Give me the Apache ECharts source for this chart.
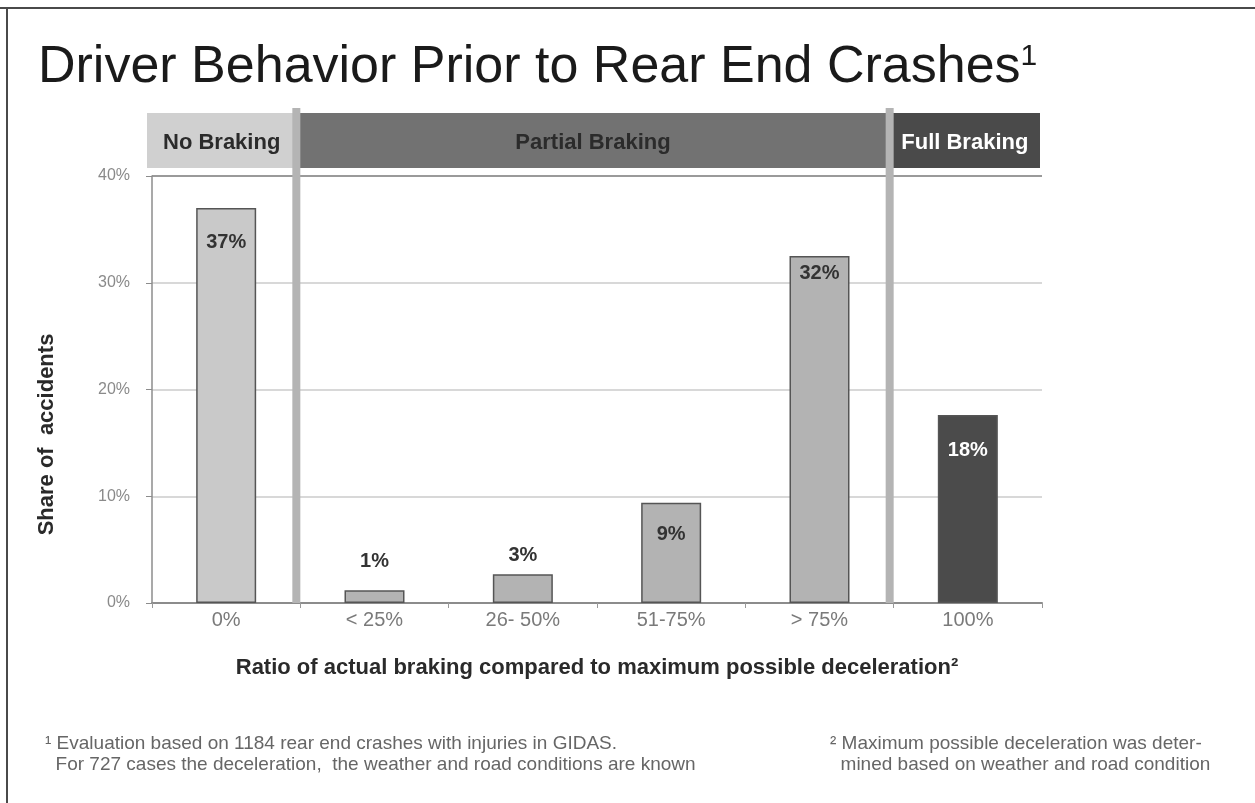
<!DOCTYPE html>
<html lang="en">
<head>
    <meta charset="UTF-8">
    <title>Driver Behavior Prior to Rear End Crashes</title>
    <style>
        html, body { margin: 0; padding: 0; background: #fff; }
        .show { width: 1255px; height: 803px; }
    </style>
</head>
<body>
    <div class="show"></div>
    <script src="https://cdn.jsdelivr.net/npm/echarts@6/dist/echarts.min.js"></script>
    <script>
        // data
        const categories = ['0%', '< 25%', '26- 50%', '51-75%', '> 75%', '100%'];
        const shares = [37, 1.2, 2.7, 9.4, 32.5, 17.6];          // bar heights, % of accidents
        const shareLabels = ['37%', '1%', '3%', '9%', '32%', '18%'];
        const yTicks = [0, 10, 20, 30, 40];
        // header bands: name + first/last category index it covers
        const phases = [
            { name: 'No Braking', from: 0, to: 0 },
            { name: 'Partial Braking', from: 1, to: 4 },
            { name: 'Full Braking', from: 5, to: 5 }
        ];

        const FONT = "'Liberation Sans', Arial, sans-serif";
        const barColors = ['#c9c9c9', '#b3b3b3', '#b3b3b3', '#b3b3b3', '#b3b3b3', '#4b4b4b'];
        const phaseColors = ['#d0d0d0', '#727272', '#4a4a4a'];
        const phaseText = ['#2b2b2b', '#2b2b2b', '#ffffff'];
        // label placement per bar (inside top unless the bar is too short)
        const labelPlace = [
            { position: 'insideTop', distance: 24, color: '#333' },
            { position: 'top', distance: 19, color: '#333' },
            { position: 'top', distance: 9, color: '#333' },
            { position: 'insideTop', distance: 22, color: '#333' },
            { position: 'insideTop', distance: 7, color: '#333' },
            { position: 'insideTop', distance: 25, color: '#fff' }
        ];

        const myChart = echarts.init(document.querySelector('.show'), null, { renderer: 'canvas' });

        const option = {
            backgroundColor: '#fff',
            animation: false,
            title: {
                text: 'Driver Behavior Prior to Rear End Crashes{sup|1}',
                left: 33,
                top: 37,
                textStyle: {
                    fontFamily: FONT,
                    fontSize: 52,
                    fontWeight: 'normal',
                    color: '#1a1a1a',
                    rich: {
                        sup: { fontFamily: FONT, fontSize: 30, color: '#1a1a1a', verticalAlign: 'top', lineHeight: 52 }
                    }
                }
            },
            grid: { left: 152, right: 213, top: 176, bottom: 200, containLabel: false },
            xAxis: {
                type: 'category',
                data: categories,
                name: 'Ratio of actual braking compared to maximum possible deceleration²',
                nameLocation: 'middle',
                nameGap: 54,
                nameTextStyle: { fontFamily: FONT, fontSize: 22, fontWeight: 'bold', color: '#2a2a2a' },
                axisLine: { lineStyle: { color: '#8c8c8c', width: 2 } },
                axisTick: { show: true, length: 5, lineStyle: { color: '#999' } },
                axisLabel: { fontFamily: FONT, fontSize: 20, color: '#7a7a7a', margin: 7 },
                splitLine: { show: false }
            },
            yAxis: {
                type: 'value',
                min: yTicks[0],
                max: yTicks[yTicks.length - 1],
                interval: yTicks[1] - yTicks[0],
                axisLine: { show: true, lineStyle: { color: '#8c8c8c', width: 1.5 } },
                axisTick: { show: true, length: 6, lineStyle: { color: '#8c8c8c' } },
                axisLabel: {
                    fontFamily: FONT, fontSize: 16, color: '#8a8a8a', margin: 22,
                    formatter: '{value}%'
                },
                splitLine: {
                    lineStyle: { color: ['#d8d8d8', '#d8d8d8', '#d8d8d8', '#d8d8d8', '#9a9a9a'], width: 2 }
                }
            },
            series: [{
                type: 'bar',
                barWidth: 60,
                data: shares.map(function (v, i) {
                    return {
                        value: v,
                        itemStyle: { color: barColors[i] },
                        label: {
                            show: true,
                            position: labelPlace[i].position,
                            distance: labelPlace[i].distance,
                            color: labelPlace[i].color,
                            formatter: shareLabels[i]
                        }
                    };
                }),
                itemStyle: { borderColor: '#555', borderWidth: 1.5 },
                label: { fontFamily: FONT, fontSize: 20, fontWeight: 'bold' }
            }]
        };

        myChart.setOption(option);

        // header bands, phase separators, frame and footnotes placed from the axis scale
        const c0 = myChart.convertToPixel({ xAxisIndex: 0 }, 0);
        const c1 = myChart.convertToPixel({ xAxisIndex: 0 }, 1);
        const band = c1 - c0;
        const axisLeft = c0 - band / 2;
        const axisRight = axisLeft + band * categories.length;
        const bandTop = 113, bandH = 55;
        const sepTop = 108;
        const axisBottom = myChart.convertToPixel({ yAxisIndex: 0 }, 0);
        const axisTop = myChart.convertToPixel({ yAxisIndex: 0 }, yTicks[yTicks.length - 1]);

        const graphics = [];
        phases.forEach(function (p, i) {
            let x0 = i === 0 ? axisLeft - 5 : axisLeft + band * p.from - 4;
            let x1 = i === phases.length - 1 ? axisRight - 2 : axisLeft + band * (p.to + 1) - 4;
            graphics.push({
                type: 'rect', z: 1,
                shape: { x: x0, y: bandTop, width: x1 - x0, height: bandH },
                style: { fill: phaseColors[i] }
            });
            graphics.push({
                type: 'text', z: 3,
                x: (x0 + x1) / 2, y: bandTop + bandH / 2 + 2,
                style: {
                    text: p.name, fill: phaseText[i], font: 'bold 22px ' + FONT,
                    align: 'center', verticalAlign: 'middle'
                }
            });
        });
        // separators between phases
        phases.slice(1).forEach(function (p) {
            const x = axisLeft + band * p.from - 4;
            graphics.push({
                type: 'line', z: 2,
                shape: { x1: x, y1: sepTop, x2: x, y2: axisBottom },
                style: { stroke: '#b4b4b4', lineWidth: 8 }
            });
        });
        // y axis title, sits a bit below the middle of the plot
        graphics.push({
            type: 'text', z: 3,
            x: 47, y: (axisTop + axisBottom) / 2 + 45,
            rotation: Math.PI / 2,
            style: {
                text: 'Share of  accidents', fill: '#2a2a2a', font: 'bold 22px ' + FONT,
                align: 'center', verticalAlign: 'middle'
            }
        });
        // frame lines
        graphics.push({ type: 'line', z: 4, shape: { x1: 0, y1: 8, x2: 1255, y2: 8 }, style: { stroke: '#4a4a4a', lineWidth: 2 } });
        graphics.push({ type: 'line', z: 4, shape: { x1: 7, y1: 8, x2: 7, y2: 803 }, style: { stroke: '#4a4a4a', lineWidth: 2 } });
        // footnotes
        const noteStyle = 'normal 19px ' + FONT;
        graphics.push({
            type: 'text', x: 45, y: 733,
            style: {
                text: '¹ Evaluation based on 1184 rear end crashes with injuries in GIDAS.\n  For 727 cases the deceleration,  the weather and road conditions are known',
                font: noteStyle, fill: '#666', lineHeight: 21
            }
        });
        graphics.push({
            type: 'text', x: 830, y: 733,
            style: {
                text: '² Maximum possible deceleration was deter-\n  mined based on weather and road condition',
                font: noteStyle, fill: '#666', lineHeight: 21
            }
        });

        myChart.setOption({ graphic: graphics });
    </script>
</body>
</html>
